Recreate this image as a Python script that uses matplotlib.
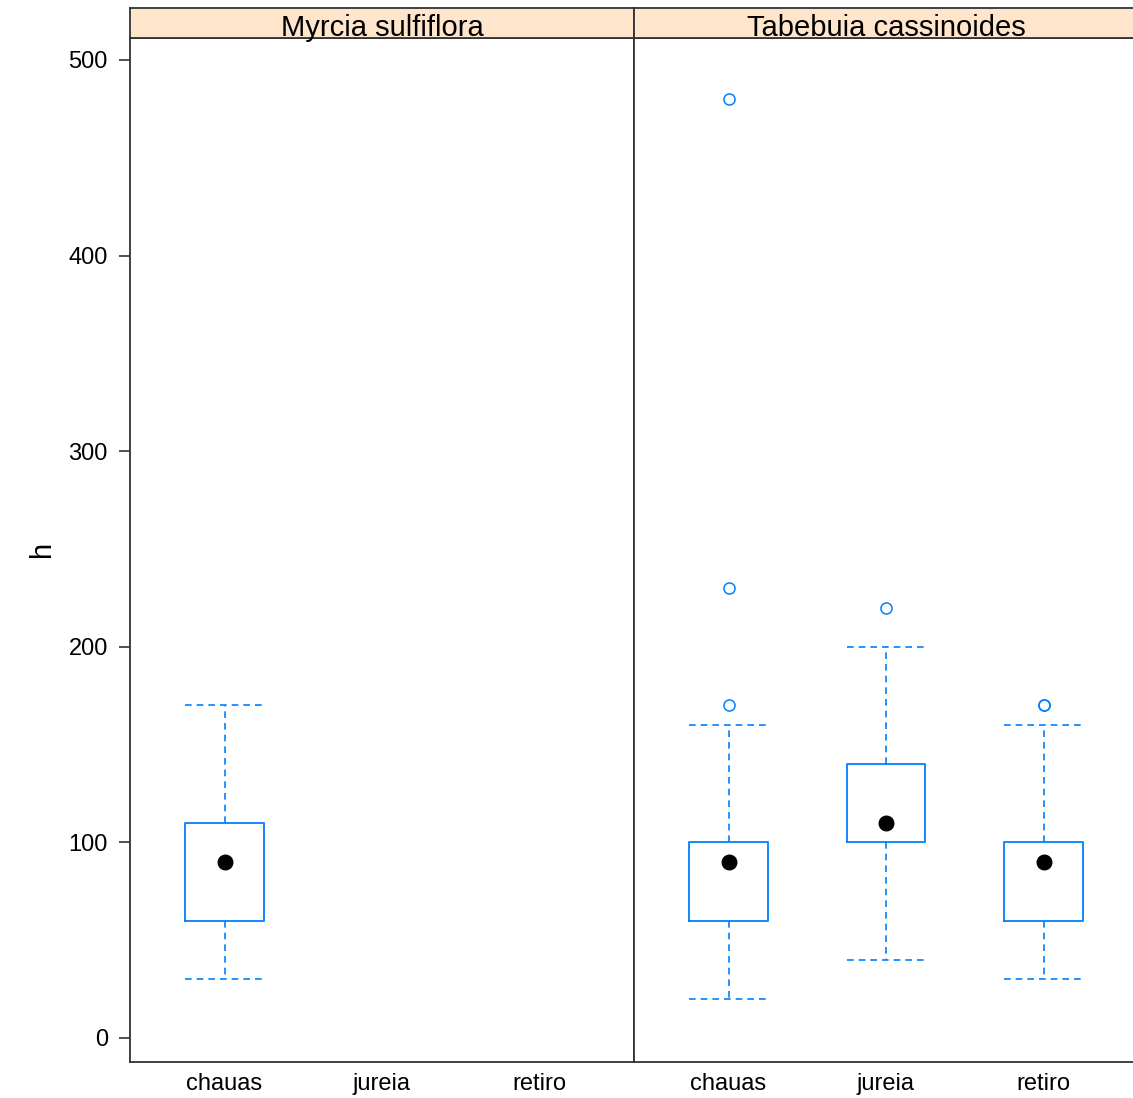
import matplotlib
matplotlib.use("Agg")
import matplotlib.pyplot as plt

plt.rcParams['font.family'] = ['Liberation Sans', 'DejaVu Sans']

## Donnees : resume des boites (h par site, pour chaque espece)
especes = ["Myrcia sulfiflora", "Tabebuia cassinoides"]
sites = ["chauas", "jureia", "retiro"]

# Myrcia : seulement chauas
myrcia_sites = ["chauas"]
myrcia_whislo = [30]
myrcia_q1 = [60]
myrcia_med = [90]
myrcia_q3 = [110]
myrcia_whishi = [170]
myrcia_fliers = [[]]

# Tabebuia : les trois sites
tabeb_sites = ["chauas", "jureia", "retiro"]
tabeb_whislo = [20, 40, 30]
tabeb_q1 = [60, 100, 60]
tabeb_med = [90, 110, 90]
tabeb_q3 = [100, 140, 100]
tabeb_whishi = [160, 200, 160]
tabeb_fliers = [[170, 230, 480], [220], [170, 170]]

bleu = "#0080ff"

W, H = 1133, 1098
fig = plt.figure(figsize=(W / 100, H / 100), dpi=100)

x0 = 130 / W
pw = 504 / W
y0 = 36 / H
ph = 1024 / H
sh = 30 / H


def panneau(ax, noms, lo, q1, med, q3, hi, fl):
    stats = []
    for i in range(len(noms)):
        stats.append(dict(med=med[i], q1=q1[i], q3=q3[i],
                          whislo=lo[i], whishi=hi[i], fliers=fl[i]))
    pos = [sites.index(n) + 1 for n in noms]
    ax.bxp(stats, positions=pos, widths=0.5, capwidths=0.5,
           boxprops=dict(color=bleu, linewidth=1.3),
           whiskerprops=dict(color=bleu, linewidth=1.2, linestyle=(0, (4, 3))),
           capprops=dict(color=bleu, linewidth=1.2, linestyle=(0, (4, 3))),
           medianprops=dict(linewidth=0),
           flierprops=dict(marker="o", markersize=8, markerfacecolor="none",
                           markeredgecolor=bleu, markeredgewidth=1.1))
    ax.scatter(pos, med, s=110, color="black", zorder=5)
    ax.set_xlim(0.4, 3.6)
    ax.set_ylim(-12.3, 511.2)
    ax.set_xticks([1, 2, 3])
    ax.set_xticklabels(sites, fontsize=17)
    ax.tick_params(axis="x", length=0, pad=8)
    for s in ax.spines.values():
        s.set_color("#333333")
        s.set_linewidth(1.3)


ax1 = fig.add_axes([x0, y0, pw, ph])
panneau(ax1, myrcia_sites, myrcia_whislo, myrcia_q1, myrcia_med,
        myrcia_q3, myrcia_whishi, myrcia_fliers)
ax1.set_yticks([0, 100, 200, 300, 400, 500])
ax1.tick_params(axis="y", labelsize=17, length=8, width=1.2, color="#333333", pad=8)
# titre de l'axe y, place a la main
fig.text(42 / W, 0.5, "h", rotation=90, fontsize=21, ha="center", va="center")

ax2 = fig.add_axes([x0 + pw, y0, pw, ph])
panneau(ax2, tabeb_sites, tabeb_whislo, tabeb_q1, tabeb_med,
        tabeb_q3, tabeb_whishi, tabeb_fliers)
ax2.tick_params(axis="y", left=False, labelleft=False)

# bandeaux avec le nom des especes
for i, nom in enumerate(especes):
    st = fig.add_axes([x0 + i * pw, y0 + ph, pw, sh])
    st.set_facecolor("#ffe5cc")
    st.set_xticks([])
    st.set_yticks([])
    for s in st.spines.values():
        s.set_color("#333333")
        s.set_linewidth(1.3)
    st.text(0.5, 0.08, nom, ha="center", va="baseline", fontsize=21,
            transform=st.transAxes, clip_on=False)

fig.savefig("out.png", dpi=100)
